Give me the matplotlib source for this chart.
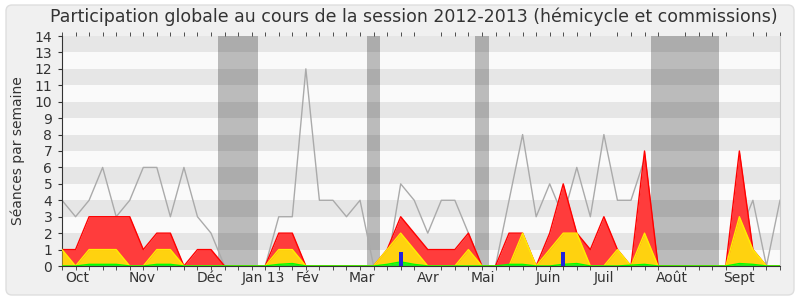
import matplotlib as mpl
mpl.use("Agg")
import numpy as np
from matplotlib import pyplot as plt
from matplotlib.patches import FancyBboxPatch
from matplotlib.transforms import IdentityTransform

# weekly values, session 2012-2013 (54 weeks)
median_all = [4, 3, 4, 6, 3, 4, 6, 6, 3, 6, 3, 2, 0, 0, 0, 0, 3, 3, 12, 4,
              4, 3, 4, 0, 0, 5, 4, 2, 4, 4, 2, 0, 0, 4, 8, 3, 5, 3, 6, 3,
              8, 4, 4, 6.5, 0, 0, 0, 0, 0, 0, 2, 4, 0, 4]
commissions = [1, 1, 3, 3, 3, 3, 1, 2, 2, 0, 1, 1, 0, 0, 0, 0, 2, 2, 0, 0,
               0, 0, 0, 0, 1, 3, 2, 1, 1, 1, 2, 0, 0, 2, 2, 0, 2, 5, 2, 1,
               3, 1, 0, 7, 0, 0, 0, 0, 0, 0, 7, 1, 0, 0]
hemicycle = [1, 0, 1, 1, 1, 0, 0, 1, 1, 0, 0, 0, 0, 0, 0, 0, 1, 1, 0, 0,
             0, 0, 0, 0, 1, 2, 1, 0, 0, 0, 1, 0, 0, 0, 2, 0, 1, 2, 2, 0,
             0, 1, 0, 2, 0, 0, 0, 0, 0, 0, 3, 1, 0, 0]
interventions = [0, 0, 0.1, 0.1, 0.1, 0, 0, 0.1, 0.1, 0, 0, 0, 0, 0, 0, 0, 0.1, 0.15, 0, 0,
                 0, 0, 0, 0, 0.1, 0.25, 0.1, 0, 0, 0, 0, 0, 0, 0.1, 0.1, 0, 0, 0.1, 0.15, 0,
                 0, 0, 0.05, 0.1, 0, 0, 0, 0, 0, 0, 0.15, 0.1, 0, 0]
questions_weeks = [25, 37]
questions = [0.87, 0.87]

vacances = [(12, 14), (23, 23), (31, 31), (44, 48)]

month_pos = [1.1, 5.9, 10.9, 14.9, 18.15, 22.1, 27.0, 31.1, 35.9, 40.0, 45.0, 50.0]
month_labels = ["Oct", "Nov", "Déc", "Jan 13", "Fév", "Mar", "Avr", "Mai",
                "Juin", "Juil", "Août", "Sept"]

text_color = "#333333"
weeks = np.arange(len(median_all))

fig = plt.figure(figsize=(8, 3), dpi=100, facecolor="white")
fig.patches.append(FancyBboxPatch((6, 5), 788, 290, boxstyle="round,pad=0,rounding_size=6",
                                  transform=IdentityTransform(), facecolor="#f0f0f0",
                                  edgecolor="#dedede", lw=1, figure=fig, zorder=-10))
ax = fig.add_axes([62 / 800, 34 / 300, 718 / 800, 230 / 300])
ax.set_facecolor("#fafafa")

for k in range(1, 14, 2):
    ax.axhspan(k, k + 1, color="#e6e6e6", lw=0, zorder=0)
for a, b in vacances:
    ax.axvspan(a - 0.5, b + 0.5, color="black", alpha=0.25, lw=0, zorder=0.5)

ax.plot(weeks, median_all, color="#aaaaaa", lw=1, zorder=1)
ax.fill_between(weeks, commissions, color="#ff3c3c", lw=0, zorder=2)
ax.plot(weeks, commissions, color="#ff0000", lw=1, zorder=2.1)
ax.fill_between(weeks, hemicycle, color="#ffd20f", lw=0, zorder=3)
ax.plot(weeks, hemicycle, color="#ffee00", lw=1, zorder=3.1)
ax.fill_between(weeks, interventions, color="#22ee22", lw=0, zorder=4)
ax.plot(weeks, interventions, color="#00ff00", lw=1, zorder=4.1)
ax.bar(questions_weeks, questions, width=0.27, color="#2222dd", zorder=5)

ax.set_xlim(0, 53)
ax.set_ylim(0, 14)
ax.set_yticks(range(15))
ax.set_xticks(month_pos)
ax.set_xticklabels(month_labels)
ax.set_xticks(weeks, minor=True)
ax.tick_params(axis="x", which="major", length=0, pad=3.5, labelsize=10, labelcolor=text_color)
ax.tick_params(axis="x", which="minor", length=3, color=text_color, top=True, direction="out")
ax.tick_params(axis="y", length=3, pad=4, labelsize=10, labelcolor=text_color, color=text_color)

ax.spines["top"].set_visible(False)
ax.spines["right"].set_color("#cccccc")
ax.spines["left"].set_color(text_color)
ax.spines["bottom"].set_color(text_color)
ax.spines["bottom"].set_zorder(6)

ax.set_ylabel("Séances par semaine", fontsize=10, color=text_color)
ax.yaxis.set_label_coords(-0.0515, 0.5)

fig.text(413.5 / 800, 1 - 17 / 300,
         "Participation globale au cours de la session 2012-2013 (hémicycle et commissions)",
         ha="center", va="center", fontsize=12.5, color=text_color)

fig.savefig("out.png", dpi=100)
